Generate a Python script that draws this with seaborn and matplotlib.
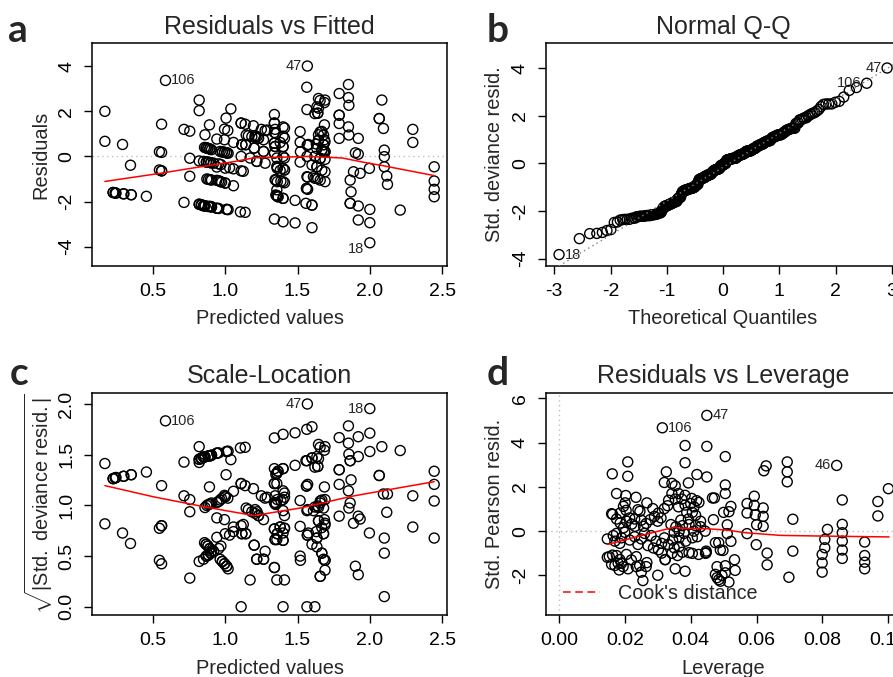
import numpy as np
import matplotlib
matplotlib.use("Agg")
import matplotlib.pyplot as plt
from matplotlib.lines import Line2D
import seaborn as sns
from statistics import NormalDist

# ---- model diagnostics -------------------------------------------------
# (fitted value, deviance residual) for every case except the flagged ones
fitted_resid = [
    (0.168, 2.00), (0.168, 0.67),
    (0.225, -1.60), (0.225, -1.60), (0.240, -1.62), (0.240, -1.62), (0.245, -1.63),
    (0.290, 0.53), (0.295, -1.66), (0.300, -1.66),
    (0.345, -0.39), (0.350, -1.70), (0.350, -1.70),
    (0.455, -1.77),
    (0.560, 1.43), (0.545, 0.21), (0.560, 0.18), (0.545, -0.60), (0.560, -0.64), (0.560, -0.64),
    (0.715, 1.20), (0.715, -2.04),
    (0.755, 1.12), (0.755, -0.08), (0.755, -0.88),
    (0.820, 2.50), (0.820, 2.03), (0.820, -0.20), (0.820, -2.12), (0.820, -2.12),
    (0.835, -2.14), (0.835, -2.15), (0.835, -2.15),
    (0.860, 0.96), (0.857, 0.40), (0.868, 0.38), (0.868, 0.38), (0.880, 0.36), (0.880, 0.36),
    (0.893, 0.33), (0.893, 0.33), (0.905, 0.30),
    (0.850, -0.22), (0.870, -0.25), (0.870, -0.25), (0.884, -0.26), (0.884, -0.26),
    (0.900, -0.28), (0.900, -0.28), (0.920, -0.30),
    (0.873, -1.00), (0.884, -1.02), (0.896, -1.03), (0.905, -1.05),
    (0.850, -2.19), (0.850, -2.19), (0.860, -2.19), (0.860, -2.19), (0.884, -2.22), (0.884, -2.22),
    (0.896, -2.22), (0.896, -2.22), (0.905, -2.24), (0.905, -2.24),
    (0.891, 1.40),
    (0.942, 0.77), (0.942, -0.47), (0.942, -1.06), (0.955, -1.08), (0.965, -1.11),
    (0.975, -1.14), (1.000, -1.18), (1.000, -1.18), (1.057, -1.30),
    (0.942, -2.30), (0.942, -2.30), (0.955, -2.31), (1.010, -2.35), (1.010, -2.35), (1.020, -2.36),
    (0.965, 0.22), (0.980, 0.20), (0.980, 0.20), (0.995, 0.18), (0.995, 0.18),
    (1.010, 0.16), (1.010, 0.16), (1.020, 0.14),
    (0.955, -0.33), (0.970, -0.36),
    (0.995, 1.21), (1.018, 1.15), (1.006, 1.70), (1.039, 2.11), (0.995, 0.74), (1.057, 0.62),
    (1.000, -0.52), (1.030, -0.50), (1.057, -0.55),
    (1.110, 1.48), (1.110, 1.48), (1.138, 1.43), (1.115, 0.52), (1.115, 0.52), (1.142, 0.52),
    (1.142, 0.52), (1.110, 0.00), (1.110, -0.64), (1.125, -0.66), (1.145, 0.95), (1.160, 0.92),
    (1.105, -2.46), (1.138, -2.48),
    (1.195, 1.36), (1.184, 0.88), (1.207, 0.85), (1.230, 0.81), (1.230, 0.81), (1.207, 0.92),
    (1.276, 1.15), (1.250, 1.20), (1.290, 1.17), (1.220, 0.88), (1.265, 0.74),
    (1.200, 0.37), (1.200, 0.37), (1.265, 0.22), (1.265, 0.22),
    (1.172, -0.07), (1.218, -0.22), (1.218, -0.22), (1.276, -0.30),
    (1.340, 1.86), (1.340, 1.48), (1.340, 1.48), (1.345, 1.20), (1.340, 1.06), (1.350, 1.02),
    (1.340, 0.59), (1.340, 0.59), (1.345, 0.44), (1.345, 0.44), (1.340, 0.15), (1.340, 0.15),
    (1.357, -0.07), (1.357, -0.44), (1.360, -0.52), (1.360, -0.52),
    (1.345, -1.03), (1.350, -1.05), (1.360, -1.12), (1.357, -1.48),
    (1.350, -1.71), (1.357, -1.74), (1.357, -1.74), (1.365, -1.79), (1.365, -1.79),
    (1.340, -2.78),
    (1.400, 1.31), (1.410, 1.26), (1.400, 0.90), (1.410, 0.81), (1.400, 0.43), (1.400, 0.43),
    (1.400, 0.00), (1.410, -0.07), (1.400, -0.53), (1.410, -0.60), (1.410, -0.60),
    (1.400, -1.12), (1.410, -1.17), (1.400, -1.86), (1.400, -1.86), (1.400, -2.90),
    (1.380, 0.62), (1.380, -0.62), (1.385, -1.10),
    (1.483, -1.95), (1.483, -2.95),
    (1.518, 1.10), (1.518, 0.63), (1.520, 0.21), (1.518, -0.25),
    (1.564, 3.07), (1.565, 2.08),
    (1.575, 0.53), (1.568, 0.50), (1.568, 0.50), (1.565, 0.00),
    (1.565, -0.90), (1.570, -0.92), (1.562, -1.42), (1.562, -1.42), (1.570, -1.46),
    (1.558, -2.08), (1.600, -2.16), (1.600, -2.16), (1.600, -3.16), (1.600, -0.38), (1.610, -0.90),
    (1.645, 2.57), (1.656, 2.48), (1.690, 2.50), (1.686, 2.39), (1.634, 2.20), (1.645, 2.14),
    (1.620, 1.90), (1.640, 1.92), (1.640, 1.92),
    (1.686, 1.40), (1.668, 1.11), (1.657, 1.09), (1.645, 0.96), (1.680, 0.95),
    (1.645, 0.72), (1.645, 0.72), (1.686, 0.74), (1.690, 0.65), (1.680, 0.52), (1.680, 0.52),
    (1.634, 0.35), (1.668, 0.28), (1.668, 0.28), (1.690, 0.21), (1.690, 0.21), (1.680, 0.22),
    (1.620, 0.00), (1.657, -0.09), (1.657, -0.09), (1.690, -0.13),
    (1.634, -0.46), (1.634, -0.46), (1.668, -0.61), (1.690, -0.68),
    (1.620, -0.97), (1.640, -0.99), (1.657, -1.05), (1.690, -1.12), (1.630, 0.55),
    (1.788, 2.79), (1.788, 1.83), (1.788, 1.83), (1.788, 1.46), (1.788, 0.80),
    (1.852, 3.19), (1.852, 2.61), (1.855, 2.27), (1.852, 1.31), (1.855, 0.95),
    (1.864, -1.05), (1.870, -1.57), (1.864, -2.08), (1.864, -2.08), (1.887, -0.68),
    (1.900, 0.16), (1.920, 0.10), (1.920, 0.80), (1.933, -0.75), (1.920, -2.20), (1.920, -2.82),
    (1.997, -0.53), (2.000, -2.35), (2.000, -2.94),
    (2.065, 1.68), (2.065, 1.68), (2.083, 2.50), (2.094, 1.24), (2.100, 0.28), (2.100, -0.01),
    (2.100, -0.46), (2.117, -0.87), (2.122, -1.24),
    (2.210, -2.38), (2.297, 1.20), (2.297, 0.62),
    (2.445, -0.46), (2.445, -1.09), (2.445, -1.46), (2.445, -1.79),
]
# cases with the largest residuals
flag_fitted = [1.568, 2.000, 0.587]
flag_resid = [4.01, -3.83, 3.37]
flag_ids = ["47", "18", "106"]

# lowess smoothers (red)
smooth_resid_x = [0.168, 0.56, 0.77, 1.07, 1.20, 1.35, 1.575, 1.81, 1.95, 2.09, 2.445]
smooth_resid_y = [-1.11, -0.74, -0.52, -0.22, -0.06, -0.04, 0.00, -0.07, -0.25, -0.41, -0.85]
smooth_scale_x = [0.168, 0.50, 0.827, 1.00, 1.20, 1.39, 1.52, 1.66, 1.86, 2.09, 2.445]
smooth_scale_y = [1.196, 1.087, 0.995, 0.95, 0.90, 0.945, 0.975, 1.02, 1.087, 1.146, 1.235]

# (leverage, standardized Pearson residual)
lev_pearson = [
    (0.0693, 3.13), (0.0693, 2.68), (0.0693, 2.23),
    (0.0710, 0.54), (0.0710, -0.90), (0.0698, -2.08),
    (0.0860, 1.41), (0.0860, 0.31), (0.0860, -0.07), (0.0860, -0.45), (0.0860, -0.85), (0.0860, -1.23),
    (0.0815, 0.08), (0.0807, -0.37), (0.0807, -0.75), (0.0799, -1.05), (0.0799, -1.43), (0.0799, -1.85),
    (0.0928, -0.49), (0.0928, -1.10), (0.0928, -1.40), (0.0928, -1.70),
    (0.0968, 1.34), (0.0968, 0.69), (0.1000, 1.92),
    (0.0622, 2.73), (0.0629, 2.95),
    (0.0571, 1.25), (0.0593, 1.58), (0.0593, 1.17), (0.0620, 1.05), (0.0571, 0.82), (0.0596, 0.74),
    (0.0620, 0.67), (0.0600, 0.29), (0.0620, 0.22), (0.0571, -0.11), (0.0599, -0.61),
    (0.0632, -0.99), (0.0632, -1.52),
    (0.0449, 3.83), (0.0449, 2.45), (0.0505, 3.37), (0.0505, 2.09), (0.0505, 1.70),
    (0.0466, 1.50), (0.0472, 1.50), (0.0522, 1.12), (0.0500, 0.85), (0.0516, 0.88), (0.0469, 0.52),
    (0.0511, 0.29), (0.0511, -0.11), (0.0522, -0.46), (0.0498, -0.87), (0.0533, -1.29),
    (0.0505, -1.56), (0.0535, -1.77), (0.0485, -0.52), (0.0475, -0.52), (0.0490, -0.85),
    (0.0444, 0.00), (0.0447, -0.90), (0.0447, -0.97), (0.0445, -1.00),
    (0.0480, -1.60), (0.0475, -1.95), (0.0480, -2.10), (0.0485, -2.19), (0.0495, -2.00),
    (0.0505, -1.88), (0.0516, -2.30), (0.0490, -2.26),
    (0.0383, 3.87), (0.0383, 3.09), (0.0326, 2.68), (0.0419, 2.56), (0.0393, 2.18),
    (0.0320, 2.20), (0.0343, 2.16), (0.0353, 2.05),
    (0.0343, 1.70), (0.0363, 1.70), (0.0383, 1.62), (0.0353, 1.45), (0.0373, 1.45), (0.0333, 1.40),
    (0.0403, 1.48), (0.0418, 1.38), (0.0425, 1.30),
    (0.0320, 1.02), (0.0330, 1.15), (0.0363, 1.10), (0.0383, 1.18), (0.0400, 1.25), (0.0410, 1.10),
    (0.0388, 0.85), (0.0405, 0.85), (0.0415, 0.72), (0.0393, 0.55), (0.0370, 0.50), (0.0430, 0.45),
    (0.0340, 0.30), (0.0355, 0.20), (0.0375, 0.25), (0.0395, 0.30), (0.0415, 0.25), (0.0430, 0.20),
    (0.0350, -0.05), (0.0365, 0.00), (0.0380, -0.10), (0.0410, 0.00),
    (0.0320, -0.30), (0.0345, -0.40), (0.0365, -0.30), (0.0385, -0.45), (0.0405, -0.30), (0.0420, -0.25),
    (0.0312, -0.55), (0.0332, -0.60), (0.0350, -0.75), (0.0365, -0.70), (0.0375, -0.95),
    (0.0395, -0.97), (0.0405, -1.00), (0.0424, -1.05),
    (0.0323, -1.28), (0.0343, -1.00), (0.0353, -1.70), (0.0383, -1.81), (0.0360, -1.10),
    (0.0162, 2.59), (0.0209, 3.13), (0.0209, 2.48),
    (0.0175, 1.70), (0.0203, 1.61), (0.0234, 1.53), (0.0267, 1.28),
    (0.0160, 0.79), (0.0163, 0.76), (0.0186, 0.82), (0.0196, 1.12), (0.0201, 1.28), (0.0204, 0.94),
    (0.0240, 0.97), (0.0246, 0.90), (0.0285, 1.02), (0.0302, 0.82), (0.0290, 0.67), (0.0277, 0.52),
    (0.0175, 0.55), (0.0186, 0.37), (0.0206, 0.45), (0.0221, 0.32), (0.0231, 0.22), (0.0257, 0.22),
    (0.0196, 0.15), (0.0215, 0.60), (0.0230, 0.55), (0.0250, 0.50), (0.0265, 0.35), (0.0300, 0.45),
    (0.0310, 0.60),
    (0.0147, -0.35), (0.0165, -0.20), (0.0175, -0.10), (0.0190, -0.30), (0.0200, -0.05),
    (0.0215, -0.40), (0.0230, -0.25), (0.0250, -0.35), (0.0260, -0.10), (0.0280, -0.20),
    (0.0295, -0.45), (0.0170, -0.45), (0.0185, -0.55), (0.0240, -0.60), (0.0270, -0.65),
    (0.0147, -1.18), (0.0153, -1.15), (0.0163, -1.08), (0.0175, -1.10), (0.0185, -1.28),
    (0.0190, -1.45), (0.0195, -1.60), (0.0183, -1.75), (0.0205, -1.05), (0.0220, -1.30),
    (0.0235, -1.15), (0.0235, -1.60), (0.0245, -1.55), (0.0265, -1.60), (0.0267, -1.42),
    (0.0287, -0.76), (0.0302, -0.84), (0.0312, -0.99), (0.0322, -1.29),
    (0.0160, -1.50), (0.0170, -1.55), (0.0180, -1.45),
    (0.0255, -2.23), (0.0300, -1.99), (0.0210, -1.70), (0.0250, -1.85),
]
# cases with the largest Cook's distance
flag_lev = [0.0449, 0.0314, 0.0843]
flag_pearson = [5.23, 4.67, 2.97]
flag_lev_ids = ["47", "106", "46"]

smooth_lev_x = [0.0148, 0.0236, 0.0312, 0.0353, 0.0368, 0.0449, 0.0510, 0.0566, 0.0673, 0.0800, 0.1002]
smooth_lev_y = [-0.60, -0.25, 0.04, 0.19, 0.13, 0.11, 0.05, -0.07, -0.19, -0.22, -0.26]

# ---- style ---------------------------------------------------------------
sns.set_theme(style="white")
plt.rcParams["font.family"] = ["Liberation Sans", "DejaVu Sans"]
plt.rcParams["mathtext.fontset"] = "custom"
plt.rcParams["mathtext.rm"] = "Liberation Sans"
plt.rcParams["mathtext.it"] = "Liberation Sans:italic"

TICK_FS = 14
LAB_FS = 14.4
TITLE_FS = 18
ID_FS = 10.5
GRAY = "#BEBEBE"


def circles(ax, x, y):
    sns.scatterplot(x=x, y=y, ax=ax, s=52, color="black", linewidth=1.0,
                    legend=False, zorder=3)
    pc = ax.collections[-1]
    pc.set_facecolor("none")
    pc.set_edgecolor("black")


def smooth(ax, x, y):
    sns.lineplot(x=x, y=y, ax=ax, color="red", linewidth=1.1, sort=False,
                 estimator=None, zorder=4)


def frame(ax, title, xlabel, ylabel, xlim, ylim, xticks, xlabels, yticks, ylabels,
          xpad=7, ypad=6):
    ax.set_xlim(xlim)
    ax.set_ylim(ylim)
    ax.set_xticks(xticks)
    ax.set_xticklabels(xlabels)
    ax.set_yticks(yticks)
    ax.set_yticklabels(ylabels, rotation=90, va="center")
    ax.tick_params(axis="both", direction="out", length=6, width=1.0,
                   labelsize=TICK_FS, pad=6, colors="black",
                   bottom=True, left=True, top=False, right=False)
    for sp in ax.spines.values():
        sp.set_visible(True)
        sp.set_color("black")
        sp.set_linewidth(1.1)
    ax.set_title(title, fontsize=TITLE_FS, pad=7)
    ax.set_xlabel(xlabel, fontsize=LAB_FS, labelpad=xpad)
    ax.set_ylabel(ylabel, fontsize=LAB_FS, labelpad=ypad)


def tag(ax, x, y, text, right, dy=0.0):
    ax.annotate(text, (x, y), xytext=(4 if right else -4, dy), textcoords="offset points",
                ha="left" if right else "right", va="center", fontsize=ID_FS,
                annotation_clip=False)


fig = plt.figure(figsize=(8.93, 6.77), dpi=100)
W, H = 0.3976, 0.3290
ax_a = fig.add_axes([0.1032, 0.6071, W, H])
ax_b = fig.add_axes([0.6109, 0.6071, W, H])
ax_c = fig.add_axes([0.1032, 0.0911, W, H])
ax_d = fig.add_axes([0.6109, 0.0911, W, H])

fitted = np.array([p[0] for p in fitted_resid] + flag_fitted)
resid = np.array([p[1] for p in fitted_resid] + flag_resid)

# a: residuals vs fitted
ax_a.axhline(0, color=GRAY, linestyle=(0, (1, 2.5)), linewidth=1.0, zorder=1)
circles(ax_a, fitted, resid)
smooth(ax_a, smooth_resid_x, smooth_resid_y)
for fx, ry, lab in zip(flag_fitted, flag_resid, flag_ids):
    tag(ax_a, fx, ry, lab, right=fx < 1.3, dy=-4.5 if ry < 0 else 0)
frame(ax_a, "Residuals vs Fitted", "Predicted values", "Residuals",
      (0.08, 2.535), (-4.86, 5.02),
      [0.5, 1.0, 1.5, 2.0, 2.5], ["0.5", "1.0", "1.5", "2.0", "2.5"],
      [-4, -2, 0, 2, 4], ["-4", "-2", "0", "2", "4"])

# b: normal Q-Q of the residuals
n = len(resid)
order = np.argsort(resid)
sorted_r = resid[order]
a_off = 3 / 8 if n <= 10 else 0.5
probs = (np.arange(1, n + 1) - a_off) / (n + 1 - 2 * a_off)
theo = np.array([NormalDist().inv_cdf(p) for p in probs])
circles(ax_b, theo, sorted_r)
q1, q3 = np.quantile(sorted_r, [0.25, 0.75])
z1, z3 = NormalDist().inv_cdf(0.25), NormalDist().inv_cdf(0.75)
slope = (q3 - q1) / (z3 - z1)
icept = q1 - slope * z1
ax_b.axline((0, icept), slope=slope, color="#7F7F7F", linestyle=(0, (1, 2.5)),
            linewidth=1.0, zorder=5)
for ry, lab in zip(flag_resid, flag_ids):
    k = int(np.where(sorted_r == ry)[0][0])
    tag(ax_b, theo[k], ry, lab, right=theo[k] < 0)
frame(ax_b, "Normal Q-Q", "Theoretical Quantiles", "Std. deviance resid.",
      (-3.156, 3.156), (-4.31, 5.05),
      [-3, -2, -1, 0, 1, 2, 3], ["-3", "-2", "-1", "0", "1", "2", "3"],
      [-4, -2, 0, 2, 4], ["-4", "-2", "0", "2", "4"])

# c: scale-location
scale = np.sqrt(np.abs(resid))
circles(ax_c, fitted, scale)
smooth(ax_c, smooth_scale_x, smooth_scale_y)
for fx, ry, lab in zip(flag_fitted, flag_resid, flag_ids):
    tag(ax_c, fx, np.sqrt(abs(ry)), lab, right=fx < 1.3)
frame(ax_c, "Scale-Location", "Predicted values",
      r"$\sqrt{|\mathrm{Std.\ deviance\ resid.}|}$",
      (0.08, 2.535), (-0.085, 2.115),
      [0.5, 1.0, 1.5, 2.0, 2.5], ["0.5", "1.0", "1.5", "2.0", "2.5"],
      [0.0, 0.5, 1.0, 1.5, 2.0], ["0.0", "0.5", "1.0", "1.5", "2.0"])
ax_c.yaxis.set_label_coords(-0.104, 0.5)

# d: residuals vs leverage
lev = np.array([p[0] for p in lev_pearson] + flag_lev)
pear = np.array([p[1] for p in lev_pearson] + flag_pearson)
ax_d.axhline(0, color=GRAY, linestyle=(0, (1, 2.5)), linewidth=1.0, zorder=1)
ax_d.axvline(0, color=GRAY, linestyle=(0, (1, 2.5)), linewidth=1.0, zorder=1)
circles(ax_d, lev, pear)
smooth(ax_d, smooth_lev_x, smooth_lev_y)
for lx, py, lab in zip(flag_lev, flag_pearson, flag_lev_ids):
    tag(ax_d, lx, py, lab, right=lx < 0.057)
frame(ax_d, "Residuals vs Leverage", "Leverage", "Std. Pearson resid.",
      (-0.00405, 0.1037), (-3.8, 6.26),
      [0.0, 0.02, 0.04, 0.06, 0.08, 0.10], ["0.00", "0.02", "0.04", "0.06", "0.08", "0.10"],
      [-2, 0, 2, 4, 6], ["-2", "0", "2", "4", "6"])
cook = Line2D([0], [0], color="red", linestyle=(0, (5, 3)), linewidth=1.1)
ax_d.legend([cook], ["Cook's distance"], loc="lower left", bbox_to_anchor=(0.027, 0.022),
            borderaxespad=0, frameon=False, fontsize=14.2, handlelength=1.9,
            handletextpad=0.9)

# panel letters
for x, y, s in [(0.009, 0.9384, "a"), (0.545, 0.9384, "b"),
                (0.011, 0.4313, "c"), (0.545, 0.4313, "d")]:
    fig.text(x, y, s, fontsize=28, fontweight="bold", family=["Lato", "DejaVu Sans"],
             ha="left", va="baseline")

fig.savefig("out.png", dpi=100)
